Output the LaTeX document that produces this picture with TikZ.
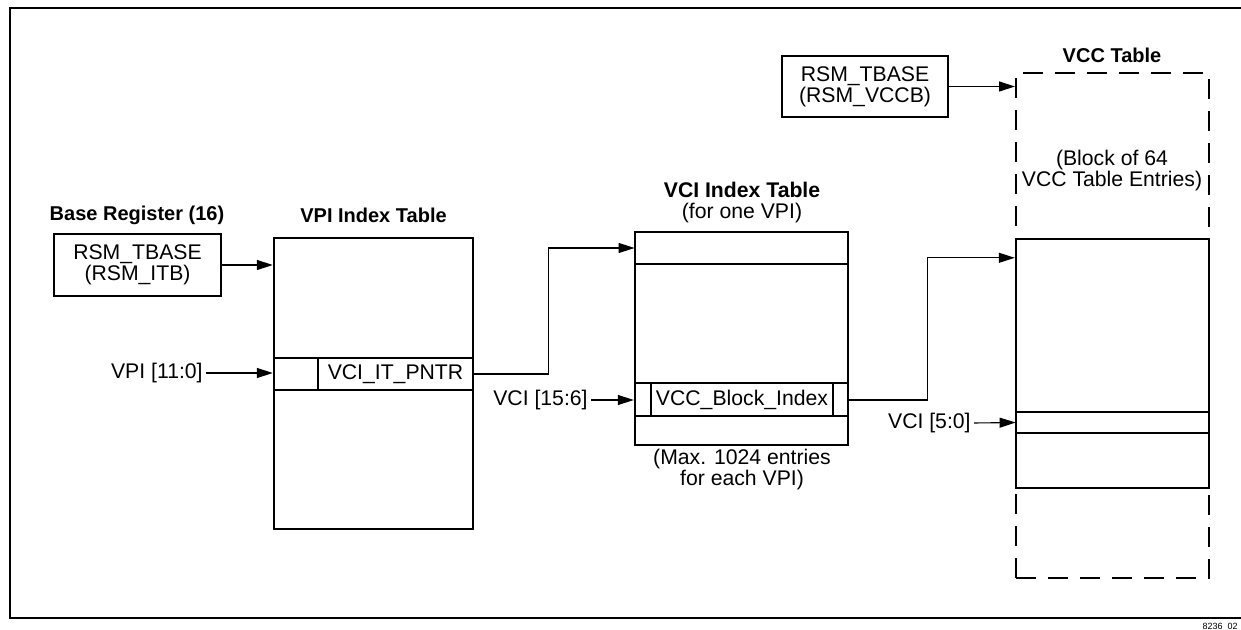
\documentclass[tikz,border=0pt]{standalone}
\usepackage{fontspec}
\setmainfont{Liberation Sans}
\usepackage{tikz}
\usetikzlibrary{arrows.meta}
\tikzstyle{ptr}=[-{Triangle[length=8pt,width=5pt]},line width=0.55pt]
\tikzstyle{regbox}=[draw,line width=1.1pt,inner sep=0pt,align=center]
\tikzstyle{tab}=[draw,line width=1.2pt,inner sep=0pt]
\tikzstyle{lbl}=[inner sep=1.5pt,align=center]
\tikzstyle{ttl}=[inner sep=0pt,align=center,font=\bfseries]
\tikzstyle{rowline}=[line width=0.8pt]

\begin{document}
\begin{tikzpicture}[x=0.5pt,y=-0.5pt,font=\fontsize{10.6}{10.5}\selectfont]

\useasboundingbox (0,0) rectangle (1241,630);

%%% Frame

\draw [line width=0.9pt] (1241,8) -- (10,8) -- (10,618) -- (1241,618);

\node [anchor=north east,inner sep=0pt,font=\fontsize{4.5}{5}\selectfont] (fignum)
at (1238,623) {8236\_02};

%%% Base Register

\node [ttl] (basettl) at (137,215) {Base Register (16)};

\node [regbox,minimum width=83.5pt,minimum height=31pt] (itb)
at (137.5,265) {RSM\_TBASE\\(RSM\_ITB)};

%%% VPI Index Table

\node [ttl] (vpittl) at (373.5,215) {VPI Index Table};

\node [tab,minimum width=99.5pt,minimum height=145.5pt] (vpitab)
at (373.5,383.5) {};

\draw [rowline] (274,358) -- (473,358);
\draw [rowline] (274,390) -- (473,390);
\draw [line width=0.6pt] (318,358) -- (318,390);

\node (itpntr) at (395.5,374) {VCI\_IT\_PNTR};

\node [lbl,anchor=east] (vpiin) at (206,373) {VPI [11:0]};

\draw [ptr] (vpiin.east) -- (vpiin.east -| vpitab.west);
\draw [ptr] (itb.east) -- (itb.east -| vpitab.west);

%%% VCI Index Table

\node [align=center] (vcittl) at (742,203)
{\textbf{VCI Index Table}\\(for one VPI)};

\node [tab,minimum width=106.5pt,minimum height=106.5pt] (vcitab)
at (741.5,338.5) {};

\node [inner sep=0pt,minimum width=106.5pt,minimum height=16pt] (vcirow)
at (741.5,248) {};

\draw [rowline] (635,264) -- (848,264);
\draw [rowline] (635,383) -- (848,383);
\draw [rowline] (635,416) -- (848,416);
\draw [line width=0.6pt] (651,383) -- (651,416);
\draw [line width=0.6pt] (833,383) -- (833,416);

\node (blkidx) at (742,400) {VCC\_Block\_Index};

\node [align=center] (vcinote) at (742,470)
{(Max. 1024 entries\\for each VPI)};

\node [lbl,anchor=east] (vciin) at (591,400) {VCI [15:6]};

\draw [ptr] (vciin.east) -- (vciin.east -| vcitab.west);

\draw [ptr] (itpntr -| vpitab.east) -- ++(74,0) |- (vcirow.west);

%%% VCC Table

\node [ttl] (vccttl) at (1112,55) {VCC Table};

\node [draw,line width=1pt,dash pattern=on 10pt off 6pt,inner sep=0pt,
minimum width=96.5pt,minimum height=252.5pt] (vcctab)
at (1112.5,325.5) {};

\node [align=center] (vccnote) at (1112,171)
{(Block of 64\\VCC Table Entries)};

\node [tab,minimum width=96.5pt,minimum height=124.5pt] (vccblk)
at (1112.5,363.5) {};

\draw [rowline] (1016,412) -- (1209,412);
\draw [rowline] (1016,433) -- (1209,433);

\node [inner sep=0pt,minimum width=96.5pt,minimum height=10.5pt] (vccrow)
at (1112.5,422.5) {};

\node [regbox,minimum width=83pt,minimum height=30.5pt] (vccb)
at (865,86.5) {RSM\_TBASE\\(RSM\_VCCB)};

\node [lbl,anchor=east] (vcc50) at (974,423) {VCI [5:0]};

\draw [ptr] (vccb.east) -- (vccb.east -| vcctab.west);
\draw [ptr] (vcc50.east) -- (vccrow.west);

\draw [ptr] (blkidx -| vcitab.east) -- ++(78,0) |- ([yshift=-10pt]vccblk.north west);

\end{tikzpicture}
\end{document}
